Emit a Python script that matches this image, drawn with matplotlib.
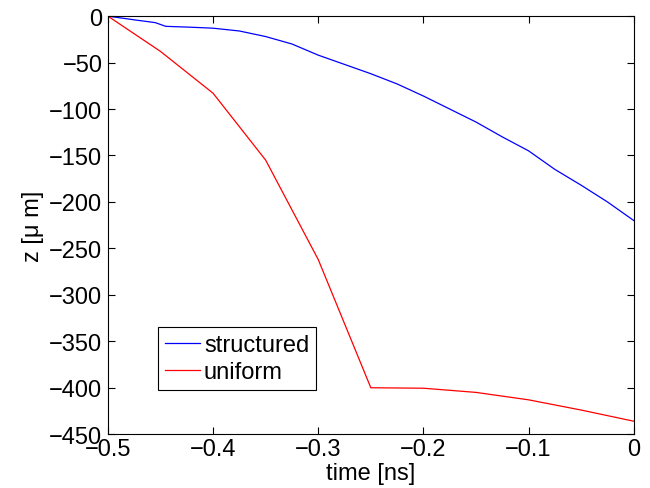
import matplotlib
matplotlib.use('Agg')
import matplotlib.pyplot as plt

plt.rcParams['font.family'] = ['Liberation Sans', 'DejaVu Sans']

# structured curve
t_struct = [-0.5, -0.475, -0.455, -0.445, -0.42, -0.4, -0.375, -0.35, -0.325, -0.3,
            -0.275, -0.25, -0.225, -0.2, -0.175, -0.15, -0.125, -0.1, -0.075,
            -0.05, -0.025, 0.0]
z_struct = [0, -4, -7, -11, -12, -13, -16, -22, -30, -42,
            -52, -62, -73, -86, -100, -114, -130, -145, -165,
            -182, -200, -220]

# uniform curve
t_unif = [-0.5, -0.45, -0.4, -0.35, -0.3, -0.25, -0.2, -0.15, -0.1, -0.05, 0.0]
z_unif = [0, -38, -83, -155, -262, -400, -400.5, -405, -413, -424, -436]

xticks = [-0.5, -0.4, -0.3, -0.2, -0.1, 0]
xticklabels = ['\u22120.5', '\u22120.4', '\u22120.3', '\u22120.2', '\u22120.1', '0']
yticks = list(range(-450, 1, 50))

fig = plt.figure(figsize=(6.5, 4.89), dpi=100)
ax = fig.add_axes([0.166, 0.110, 0.809, 0.855])

ax.plot(t_struct, z_struct, color='blue', linewidth=0.9, label='structured')
ax.plot(t_unif, z_unif, color='red', linewidth=0.9, label='uniform')

ax.set_xlim(-0.5, 0)
ax.set_ylim(-450, 0)
ax.set_xticks(xticks)
ax.set_xticklabels(xticklabels)
ax.set_yticks(yticks)
ax.tick_params(direction='in', top=True, right=True, labelsize=17, length=5)
ax.tick_params(axis='x', pad=3)
ax.tick_params(axis='y', pad=4)
for s in ax.spines.values():
    s.set_linewidth(0.8)

ax.set_xlabel('time [ns]', fontsize=17, labelpad=1.5)
ax.set_ylabel('z [\u03bc m]', fontsize=17, labelpad=4)

leg = ax.legend(loc='upper left', bbox_to_anchor=(0.095, 0.256), borderaxespad=0,
                fontsize=17, fancybox=False, framealpha=1, edgecolor='black',
                handlelength=1.5, handletextpad=0.15, borderpad=0.3, labelspacing=0.2)
leg.get_frame().set_linewidth(0.8)

fig.savefig('out.png', dpi=100)
